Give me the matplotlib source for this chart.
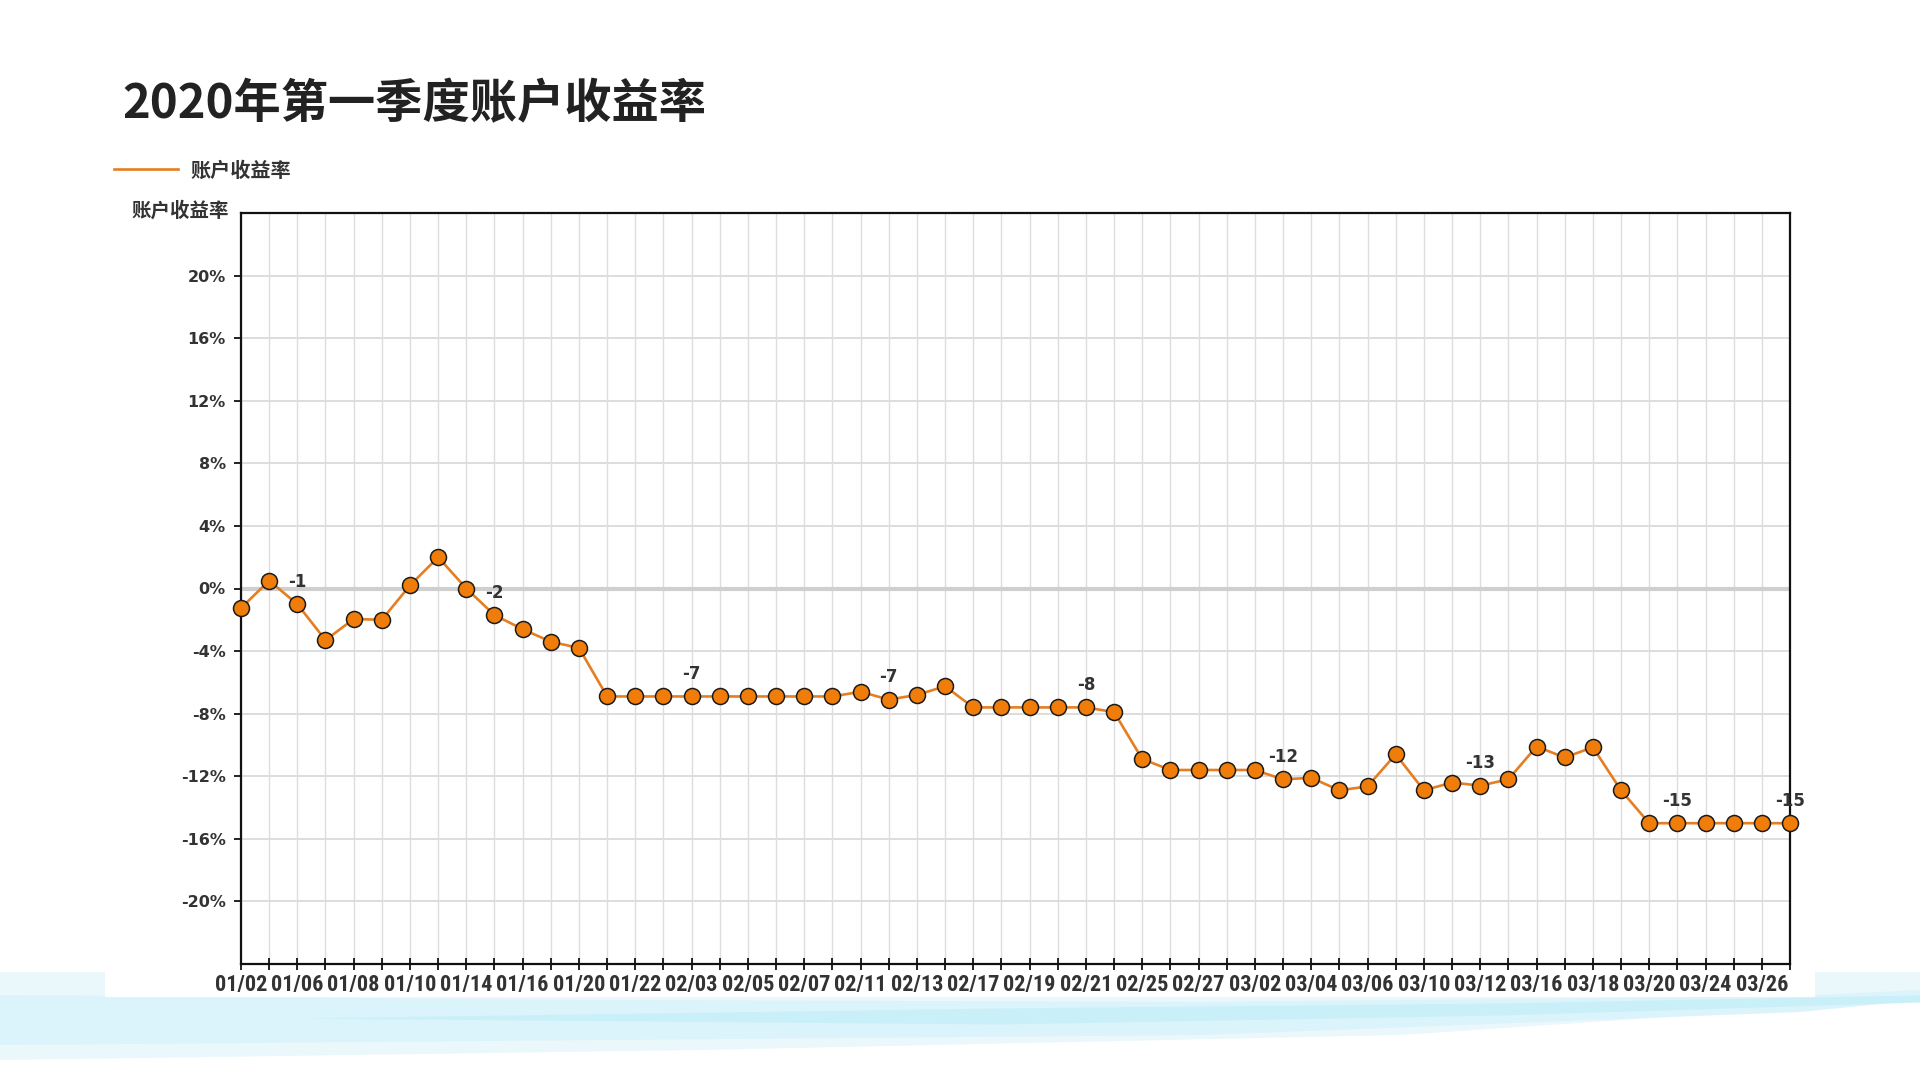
import matplotlib
matplotlib.use('Agg')
import matplotlib.pyplot as plt
from matplotlib.lines import Line2D
from matplotlib.patches import Rectangle
import numpy as np

# ---------------- data ----------------
dates = ['01/02', '01/03', '01/06', '01/07', '01/08', '01/09', '01/10', '01/13',
         '01/14', '01/15', '01/16', '01/17', '01/20', '01/21', '01/22', '01/23',
         '02/03', '02/04', '02/05', '02/06', '02/07', '02/10', '02/11', '02/12',
         '02/13', '02/14', '02/17', '02/18', '02/19', '02/20', '02/21', '02/24',
         '02/25', '02/26', '02/27', '02/28',
         '03/02', '03/03', '03/04', '03/05', '03/06', '03/09', '03/10', '03/11',
         '03/12', '03/13', '03/16', '03/17', '03/18', '03/19', '03/20', '03/23',
         '03/24', '03/25', '03/26', '03/27']

returns = [-1.25, 0.5, -1.0, -3.3, -1.95, -2.0, 0.2, 2.0, 0.0, -1.7, -2.6, -3.4, -3.8,
           -6.9, -6.9, -6.9, -6.9, -6.9, -6.9, -6.9, -6.9, -6.9,
           -6.6, -7.1, -6.8, -6.25,
           -7.6, -7.6, -7.6, -7.6, -7.6, -7.9,
           -10.9, -11.6, -11.6, -11.6, -11.6,
           -12.2, -12.1, -12.9, -12.65, -10.6, -12.9, -12.4, -12.6, -12.2,
           -10.1, -10.8, -10.15, -12.9,
           -15.0, -15.0, -15.0, -15.0, -15.0, -15.0]

label_points = [2, 9, 16, 23, 30, 37, 44, 51, 55]
y_ticks = [-20, -16, -12, -8, -4, 0, 4, 8, 12, 16, 20]

title = '2020年第一季度账户收益率'
series_name = '账户收益率'
y_title = '账户收益率'

# ---------------- style ----------------
CJK = ['Noto Sans CJK SC', 'DejaVu Sans']
plt.rcParams['font.family'] = CJK
ORANGE_LINE = '#E57E22'
ORANGE_FACE = '#F07D0A'
TXT = '#333333'

fig = plt.figure(figsize=(19.2, 10.8), dpi=100)

# background decoration (wave) in pixel coordinates
bg = fig.add_axes([0, 0, 1, 1], zorder=0)
bg.set_xlim(0, 1920)
bg.set_ylim(1080, 0)
bg.axis('off')
xs = np.linspace(0, 1920, 200)
low1 = np.interp(xs, [0, 700, 1400, 1920], [1060, 1050, 1035, 1000])
bg.fill_between(xs, 972, low1, color='#eaf7fb', lw=0)
low2 = np.interp(xs, [0, 600, 1200, 1800, 1920], [1045, 1040, 1035, 1012, 1000])
up2 = np.interp(xs, [0, 600, 1200, 1800, 1920], [995, 1000, 1002, 996, 990])
bg.fill_between(xs, up2, low2, color='#dbf3fa', lw=0)
low3 = np.interp(xs, [300, 1000, 1500, 1920], [1018, 1024, 1015, 1002])
up3 = np.interp(xs, [300, 1000, 1500, 1920], [1018, 1008, 1003, 995])
m = xs >= 300
bg.fill_between(xs[m], up3[m], low3[m], color='#c9f0f8', lw=0)
bg.add_patch(Rectangle((105, 0), 1710, 997, color='white', lw=0))

ax = fig.add_axes([241 / 1920, 1 - 964 / 1080, (1790 - 241) / 1920, (964 - 213) / 1080], zorder=2)
ax.set_facecolor('white')

x = np.arange(len(dates))
ax.plot(x, returns, color=ORANGE_LINE, lw=1.9, zorder=4, clip_on=False)
ax.plot(x, returns, ls='none', marker='o', ms=11.5, mfc=ORANGE_FACE, mec='#1a1a1a',
        mew=1.1, zorder=5, clip_on=False)

for i in label_points:
    v = returns[i]
    ax.annotate(f'{round(v):d}', (x[i], v), xytext=(0, 16), textcoords='offset points',
                ha='center', va='center', fontsize=12, fontweight='bold', color=TXT,
                family=['DejaVu Sans'], zorder=6)

ax.set_xlim(0, len(dates) - 1)
ax.set_ylim(-24, 24)

ax.set_xticks(x)
ax.set_xticklabels([d if i % 2 == 0 else '' for i, d in enumerate(dates)],
                   family=['Roboto Condensed', 'Roboto', 'DejaVu Sans'], fontsize=16,
                   fontweight='bold', color=TXT)
ax.tick_params(axis='x', direction='inout', length=8, width=1.3, color='#111111', pad=3)

ax.set_yticks(y_ticks)
ax.set_yticklabels([f'{t}%' for t in y_ticks], family=['DejaVu Sans'], fontsize=11.5,
                   fontweight='bold', color=TXT)
ax.tick_params(axis='y', direction='out', length=5, width=1.3, color='#111111', pad=6)

# grid
for xi in x:
    ax.axvline(xi, color='#dddddd', lw=1.0, zorder=1)
for t in y_ticks:
    if t == 0:
        ax.axhline(t, color='#cfcfcf', lw=3.0, zorder=2)
    else:
        ax.axhline(t, color='#dddddd', lw=1.4, zorder=1)

for s in ax.spines.values():
    s.set_color('#111111')
    s.set_linewidth(1.6)
    s.set_zorder(3)

# title, legend and y title
fig.text(122 / 1920, 1 - 104 / 1080, title, fontsize=34, fontweight='bold', color='#222222',
         ha='left', va='center', family=CJK)

handle = Line2D([], [], color=ORANGE_LINE, lw=1.9)
leg = fig.legend([handle], [series_name], loc='center left',
                 bbox_to_anchor=(114 / 1920, 1 - 170 / 1080), frameon=False,
                 handlelength=3.2, handletextpad=0.6, borderpad=0, borderaxespad=0,
                 prop={'family': CJK, 'weight': 'bold', 'size': 14.5})
for t in leg.get_texts():
    t.set_color('#333333')

fig.text(229 / 1920, 1 - 211 / 1080, y_title, fontsize=14, fontweight='bold', color='#333333',
         ha='right', va='center', family=CJK)

fig.savefig('out.png', dpi=100, facecolor='white')
